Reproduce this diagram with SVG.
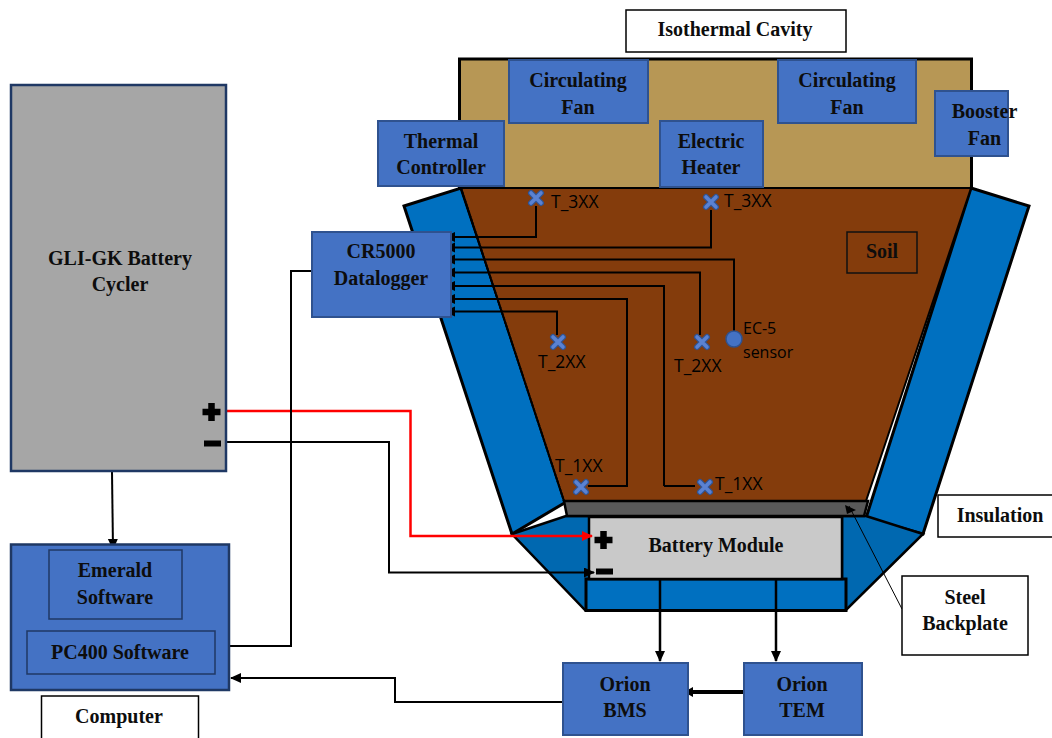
<svg xmlns="http://www.w3.org/2000/svg" width="1052" height="738" viewBox="0 0 1052 738">
<defs>
<marker id="a" markerUnits="userSpaceOnUse" markerWidth="12" markerHeight="12" refX="10" refY="5" orient="auto"><path d="M0 0L11 5L0 10z" fill="#000"/></marker>
<marker id="r" markerUnits="userSpaceOnUse" markerWidth="12" markerHeight="12" refX="10" refY="5" orient="auto"><path d="M0 0L11 5L0 10z" fill="#f00"/></marker>
<marker id="s" markerUnits="userSpaceOnUse" markerWidth="12" markerHeight="12" refX="10" refY="4.5" orient="auto"><path d="M0 0L10 4.5L0 9z" fill="#000"/></marker>
<g id="x"><path d="M-5 -5L5 5M5 -5L-5 5" stroke="#2F5597" stroke-width="6" stroke-linecap="round"/><path d="M-5 -5L5 5M5 -5L-5 5" stroke="#5B82D2" stroke-width="3.6" stroke-linecap="round"/></g>
</defs>
<style>
text{font-family:"Liberation Serif",serif;font-weight:700;font-size:20px;fill:#0d0d0d;text-anchor:middle}
.s{font-family:"Open Sans","Noto Sans",sans-serif;font-weight:400;font-size:17.5px;fill:#000;text-anchor:start}
.b{fill:#4472C4;stroke:#2F528F;stroke-width:2}
.w{fill:#fff;stroke:#000;stroke-width:1.5}
.i{fill:#0070C0;stroke:#000;stroke-width:3;stroke-linejoin:miter}
.d{fill:#0068B0;stroke:#000;stroke-width:2.5}
.c{fill:none;stroke:#000;stroke-width:2}
.p{font-family:"DejaVu Sans",sans-serif;font-size:30px;fill:#000}
</style>
<rect id="bg" width="1052" height="738" fill="#fff"/>
<g id="cavity">
<rect x="459.500" y="59" width="512" height="129.500" fill="#B79755" stroke="#000" stroke-width="3"/>
</g>
<g id="insulation">
<path class="i" d="M404 206L461 188L566 502L512 534Z"/>
<path class="i" d="M971 188L1029 206L923 534L866 518Z"/>
<path class="d" d="M512 534L566 516L590 516L590 610L585 610Z"/>
<path class="d" d="M866 516L923 534L846 610L842 610L842 516Z"/>
<rect class="i" x="586" y="579" width="260" height="31.500"/>
</g>
<g id="soil">
<path d="M461 188L971 188L866 501L564 501Z" fill="#843C0C" stroke="#000" stroke-width="2"/>
<path d="M461 188L564 501" fill="none" stroke="#000" stroke-width="2" stroke-dasharray="3 1"/>
<rect x="847" y="232" width="70" height="41" fill="#843C0C" stroke="#111" stroke-width="1.500"/>
<text x="882" y="258">Soil</text>
</g>
<g id="backplate">
<path d="M564 501L868 501L864 516L567 516Z" fill="#595959" stroke="#000" stroke-width="2.500"/>
</g>
<g id="battery-module">
<rect x="589" y="517" width="253" height="62" fill="#C9C9C9" stroke="#000" stroke-width="2.500"/>
<text x="716" y="552">Battery Module</text>
<path d="M603.500 531V549M594.500 540H612.500" stroke="#000" stroke-width="6.500"/>
<path d="M596 571.500H613" stroke="#000" stroke-width="6"/>
</g>
<g id="connectors">
<path class="c" d="M536 206V237H445" marker-end="url(#a)"/>
<path class="c" d="M711 210V247.500H445" marker-end="url(#a)"/>
<path class="c" d="M734 331V259.500H445" marker-end="url(#a)"/>
<path class="c" d="M700 335V272.500H445" marker-end="url(#a)"/>
<path class="c" d="M664 486H664V286H445" marker-end="url(#a)"/>
<path class="c" d="M664 486H695" />
<path class="c" d="M588 486H627V299H445" marker-end="url(#a)"/>
<path class="c" d="M557 335V311.500H445" marker-end="url(#a)"/>
<path d="M226 411H410.500V536H592" fill="none" stroke="#f00" stroke-width="2.500" marker-end="url(#r)"/>
<path class="c" d="M226 442H389V572.500H594" marker-end="url(#a)"/>
<path class="c" d="M312 271H291V646H216" marker-end="url(#a)"/>
<path class="c" d="M112 472L113 549" stroke-width="2" marker-end="url(#a)"/>
<path class="c" d="M563 702H395V678H231" marker-end="url(#a)"/>
<path d="M660 578V661" fill="none" stroke="#000" stroke-width="2.500" marker-end="url(#a)"/>
<path d="M776 578V661" fill="none" stroke="#000" stroke-width="2.500" marker-end="url(#a)"/>
<path d="M744 692H688" fill="none" stroke="#000" stroke-width="4"/>
<path d="M684 692L693 687V697Z" fill="#000"/>
<path d="M849 506L902 609" fill="none" stroke="#000" stroke-width="1" />
<path d="M845 505L856 510L847 514Z" fill="#000"/>
</g>
<g id="sensors">
<use href="#x" x="536" y="198"/><text class="s" x="551" y="208">T_3XX</text>
<use href="#x" x="711" y="202"/><text class="s" x="724" y="207">T_3XX</text>
<use href="#x" x="558" y="342"/><text class="s" x="538" y="368">T_2XX</text>
<use href="#x" x="702" y="342"/><text class="s" x="674" y="372">T_2XX</text>
<circle cx="734" cy="339" r="8" fill="#4472C4" stroke="#2F528F" stroke-width="1.500"/>
<text class="s" x="743" y="334" style="font-size:16px">EC-5</text><text class="s" x="743" y="358" style="font-size:16px">sensor</text>
<use href="#x" x="581" y="487"/><text class="s" x="555" y="472">T_1XX</text>
<use href="#x" x="705" y="487"/><text class="s" x="715" y="490">T_1XX</text>
</g>
<g id="isothermal-label"><rect class="w" x="626" y="10" width="220" height="42"/><text x="735" y="36">Isothermal Cavity</text></g>
<g id="fan1"><rect class="b" x="509" y="60" width="139" height="63"/><text x="578" y="87">Circulating</text><text x="578" y="114">Fan</text></g>
<g id="fan2"><rect class="b" x="778" y="60" width="138" height="63"/><text x="847" y="87">Circulating</text><text x="847" y="114">Fan</text></g>
<g id="booster"><rect class="b" x="935" y="91" width="73" height="65"/><text x="984.500" y="118">Booster</text><text x="984.500" y="145">Fan</text></g>
<g id="thermal"><rect class="b" x="378" y="121" width="126" height="65"/><text x="441" y="148">Thermal</text><text x="441" y="174">Controller</text></g>
<g id="heater"><rect class="b" x="660" y="121" width="103" height="66"/><text x="711" y="148">Electric</text><text x="711" y="174">Heater</text></g>
<g id="datalogger"><rect class="b" x="312" y="232" width="139" height="85"/><text x="381" y="258">CR5000</text><text x="381" y="285">Datalogger</text></g>
<g id="cycler">
<rect x="11" y="85" width="215" height="386" fill="#A6A6A6" stroke="#1F3864" stroke-width="2.500"/>
<text x="120" y="265">GLI-GK Battery</text><text x="120" y="291">Cycler</text>
<path d="M211.500 403V421M202.500 412H220.500" stroke="#000" stroke-width="6.500"/>
<path d="M204 443.500H221" stroke="#000" stroke-width="6"/>
</g>
<g id="computer">
<rect x="11" y="544.500" width="218" height="145.500" fill="#4472C4" stroke="#1F3864" stroke-width="2.500"/>
<rect x="49" y="550" width="133" height="69" fill="#4472C4" stroke="#1F3864" stroke-width="1.500"/>
<text x="115" y="577">Emerald</text><text x="115" y="604">Software</text>
<rect x="27" y="631" width="188" height="43" fill="#4472C4" stroke="#1F3864" stroke-width="1.500"/>
<text x="120" y="659">PC400 Software</text>
</g>
<g id="computer-label"><rect class="w" x="41.500" y="696" width="157" height="44"/><text x="119" y="723">Computer</text></g>
<g id="bms"><rect class="b" x="563" y="663" width="125" height="72"/><text x="625" y="691">Orion</text><text x="625" y="717">BMS</text></g>
<g id="tem"><rect class="b" x="744" y="663" width="118" height="72"/><text x="802" y="691">Orion</text><text x="802" y="717">TEM</text></g>
<g id="insulation-label"><rect class="w" x="938" y="495" width="116" height="42"/><text x="1000" y="522">Insulation</text></g>
<g id="steel-label"><rect class="w" x="902" y="576" width="126" height="79"/><text x="965" y="604">Steel</text><text x="965" y="630">Backplate</text></g>
</svg>
